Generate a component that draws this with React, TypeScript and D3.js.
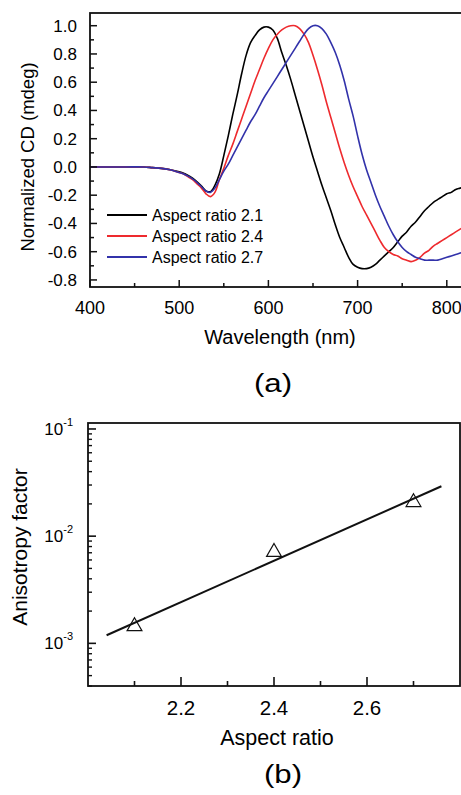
import { useEffect, useRef } from "react";
import * as d3 from "d3";

// (a) normalized CD spectra
const wavelengths = [
  400, 420, 440, 460, 470, 480, 490,
  500, 505, 510, 515, 520, 525, 530, 535, 540, 545, 550, 555, 560, 565, 570, 575, 580, 585, 590, 595,
  600, 605, 610, 615, 620, 625, 630, 635, 640, 645, 650, 655, 660, 665, 670, 675, 680, 685, 690, 695,
  700, 705, 710, 715, 720, 725, 730, 735, 740, 745, 750, 755, 760, 765, 770, 775, 780, 785, 790, 795,
  800, 805, 810, 815, 820, 825, 830,
];
const cd21 = [
  0, 0, 0, 0, -0.005, -0.01, -0.02,
  -0.035, -0.045, -0.06, -0.08, -0.105, -0.135, -0.17, -0.175, -0.13, -0.05, 0.08, 0.22, 0.37, 0.51, 0.66, 0.79, 0.88, 0.93, 0.97, 0.99,
  0.99, 0.97, 0.91, 0.81, 0.72, 0.62, 0.51, 0.4, 0.29, 0.18, 0.07, -0.03, -0.13, -0.22, -0.31, -0.41, -0.5, -0.57, -0.64, -0.69,
  -0.71, -0.72, -0.72, -0.71, -0.69, -0.66, -0.63, -0.6, -0.57, -0.53, -0.49, -0.46, -0.42, -0.39, -0.35, -0.31, -0.28, -0.25, -0.23, -0.21,
  -0.19, -0.18, -0.16, -0.15, -0.14, -0.13, -0.12,
];
const cd24 = [
  0, 0, 0, 0, -0.005, -0.01, -0.02,
  -0.04, -0.05, -0.07, -0.09, -0.12, -0.15, -0.19, -0.21, -0.18, -0.09, -0.01, 0.08, 0.16, 0.25, 0.34, 0.43, 0.52, 0.61, 0.69, 0.77,
  0.84, 0.9, 0.94, 0.97, 0.99, 1.0, 1.0, 0.98, 0.94, 0.88, 0.79, 0.69, 0.58, 0.46, 0.35, 0.24, 0.13, 0.03, -0.06, -0.14,
  -0.21, -0.28, -0.34, -0.4, -0.46, -0.52, -0.57, -0.6, -0.62, -0.63, -0.65, -0.66, -0.67, -0.66, -0.64, -0.61, -0.59, -0.56, -0.54, -0.52,
  -0.5, -0.48, -0.46, -0.44, -0.42, -0.4, -0.38,
];
const cd27 = [
  0, 0, 0, 0, -0.005, -0.01, -0.02,
  -0.04, -0.05, -0.065, -0.085, -0.11, -0.14, -0.17, -0.18, -0.15, -0.09, -0.03, 0.02, 0.08, 0.14, 0.2, 0.26, 0.32, 0.37, 0.43, 0.49,
  0.54, 0.59, 0.64, 0.69, 0.74, 0.79, 0.84, 0.89, 0.94, 0.98, 1.0, 1.0, 0.98, 0.94, 0.88, 0.81, 0.72, 0.61, 0.48, 0.36,
  0.22, 0.09, -0.02, -0.11, -0.2, -0.28, -0.35, -0.42, -0.48, -0.53, -0.57, -0.6, -0.62, -0.64, -0.65, -0.66, -0.66, -0.66, -0.66, -0.65,
  -0.64, -0.63, -0.62, -0.61, -0.6, -0.59, -0.58,
];
const seriesNames = ["Aspect ratio 2.1", "Aspect ratio 2.4", "Aspect ratio 2.7"];
const seriesColors = ["#000000", "#ee2a2e", "#3232aa"];
const cdTicks = [-0.8, -0.6, -0.4, -0.2, 0.0, 0.2, 0.4, 0.6, 0.8, 1.0];
const wlTicks = [400, 500, 600, 700, 800];

// (b) anisotropy factor vs aspect ratio
const aspectRatios = [2.1, 2.4, 2.7];
const anisotropy = [1.44e-3, 7.1e-3, 2.07e-2];
const fitRatios = [2.04, 2.76];
const fitAnisotropy = [1.19e-3, 2.92e-2];
const ratioTicks = [2.2, 2.4, 2.6];
const ratioMinorTicks = [2.1, 2.3, 2.5, 2.7];
const decadeTicks = [1e-3, 1e-2, 1e-1];
const decadeLabels = ["-3", "-2", "-1"];

const FONT = "'Liberation Sans', Arial, sans-serif";

export default function App() {
  const ref = useRef<SVGSVGElement | null>(null);

  useEffect(() => {
    const svg = d3.select(ref.current);
    svg.selectAll("*").remove();

    // ---------- panel (a) ----------
    const ax = { left: 90, top: 13, bottom: 287 };
    const x = d3.scaleLinear().domain([400, 900]).range([ax.left, ax.left + 446]);
    const y = d3.scaleLinear().domain([-0.85, 1.09]).range([ax.bottom, ax.top]);

    svg.append("clipPath").attr("id", "clipA")
      .append("rect")
      .attr("x", ax.left).attr("y", ax.top)
      .attr("width", x(900) - ax.left).attr("height", ax.bottom - ax.top);

    const series = [cd21, cd24, cd27];
    const line = d3.line<number>()
      .x((d, i) => x(wavelengths[i]))
      .y((d) => y(d))
      .curve(d3.curveCatmullRom);

    const lines = svg.append("g").attr("clip-path", "url(#clipA)");
    series.forEach((s, k) => {
      lines.append("path")
        .datum(s)
        .attr("fill", "none")
        .attr("stroke", seriesColors[k])
        .attr("stroke-width", 1.6)
        .attr("d", line);
    });

    // frame
    svg.append("rect")
      .attr("x", ax.left).attr("y", ax.top)
      .attr("width", x(900) - ax.left).attr("height", ax.bottom - ax.top)
      .attr("fill", "none").attr("stroke", "#111").attr("stroke-width", 1.8);

    // y ticks
    const yMinor = d3.range(-8, 11).map((v) => v / 10);
    svg.append("g").selectAll("line").data(yMinor).enter().append("line")
      .attr("x1", ax.left).attr("x2", (d) => ax.left + (Math.round(d * 10) % 2 === 0 ? 7 : 4))
      .attr("y1", (d) => y(d)).attr("y2", (d) => y(d))
      .attr("stroke", "#111").attr("stroke-width", 1.5);
    svg.append("g").selectAll("text").data(cdTicks).enter().append("text")
      .attr("x", 77).attr("y", (d) => y(d) + 6)
      .attr("text-anchor", "end")
      .attr("font-family", FONT).attr("font-size", 17)
      .text((d) => d.toFixed(1));

    // x ticks
    const xMinor = d3.range(400, 900, 50);
    svg.append("g").selectAll("line").data(xMinor).enter().append("line")
      .attr("x1", (d) => x(d)).attr("x2", (d) => x(d))
      .attr("y1", ax.bottom).attr("y2", (d) => ax.bottom - (d % 100 === 0 ? 7 : 4))
      .attr("stroke", "#111").attr("stroke-width", 1.5);
    svg.append("g").selectAll("text").data(wlTicks).enter().append("text")
      .attr("x", (d) => x(d)).attr("y", 314)
      .attr("text-anchor", "middle")
      .attr("font-family", FONT).attr("font-size", 18)
      .text((d) => d);

    // legend
    seriesNames.forEach((name, k) => {
      const ly = 215 + k * 21;
      svg.append("line")
        .attr("x1", 107).attr("x2", 147).attr("y1", ly).attr("y2", ly)
        .attr("stroke", seriesColors[k]).attr("stroke-width", 2);
      svg.append("text")
        .attr("x", 152).attr("y", ly + 6)
        .attr("font-family", FONT).attr("font-size", 16)
        .text(name);
    });

    svg.append("text")
      .attr("transform", "translate(34,157) rotate(-90)")
      .attr("text-anchor", "middle")
      .attr("font-family", FONT).attr("font-size", 18.5)
      .text("Normalized CD (mdeg)");
    svg.append("text")
      .attr("x", 280).attr("y", 344)
      .attr("text-anchor", "middle")
      .attr("font-family", FONT).attr("font-size", 20)
      .text("Wavelength (nm)");
    svg.append("text")
      .attr("transform", "translate(273,392) scale(1.2,1)")
      .attr("text-anchor", "middle")
      .attr("font-family", FONT).attr("font-size", 26)
      .text("(a)");

    // ---------- panel (b) ----------
    const bx = { left: 88, right: 460, top: 423, bottom: 686 };
    const xb = d3.scaleLinear().domain([2.0, 2.8]).range([bx.left, bx.right]);
    const yb = d3.scaleLog().domain([4e-4, 0.1137]).range([bx.bottom, bx.top]);

    svg.append("rect")
      .attr("x", bx.left).attr("y", bx.top)
      .attr("width", bx.right - bx.left).attr("height", bx.bottom - bx.top)
      .attr("fill", "none").attr("stroke", "#111").attr("stroke-width", 1.8);

    // log minor ticks
    const logMinor: number[] = [];
    [1e-4, 1e-3, 1e-2, 1e-1].forEach((dec) => {
      for (let m = 2; m <= 9; m++) {
        const v = dec * m;
        if (v >= 4e-4 && v <= 0.1137) logMinor.push(v);
      }
    });
    svg.append("g").selectAll("line").data(logMinor).enter().append("line")
      .attr("x1", bx.left).attr("x2", bx.left + 4)
      .attr("y1", (d) => yb(d)).attr("y2", (d) => yb(d))
      .attr("stroke", "#111").attr("stroke-width", 1.4);
    svg.append("g").selectAll("line").data(decadeTicks).enter().append("line")
      .attr("x1", bx.left).attr("x2", bx.left + 8)
      .attr("y1", (d) => yb(d)).attr("y2", (d) => yb(d))
      .attr("stroke", "#111").attr("stroke-width", 1.6);

    const decText = svg.append("g").selectAll("text").data(decadeTicks).enter().append("text")
      .attr("x", 73).attr("y", (d) => yb(d) + 6)
      .attr("text-anchor", "end")
      .attr("font-family", FONT).attr("font-size", 17);
    decText.append("tspan").text("10");
    decText.append("tspan")
      .attr("dy", -9).attr("font-size", 11)
      .text((d, i) => decadeLabels[i]);

    // x ticks
    svg.append("g").selectAll("line").data(ratioTicks).enter().append("line")
      .attr("x1", (d) => xb(d)).attr("x2", (d) => xb(d))
      .attr("y1", bx.bottom).attr("y2", bx.bottom - 9)
      .attr("stroke", "#111").attr("stroke-width", 1.6);
    svg.append("g").selectAll("line").data(ratioMinorTicks).enter().append("line")
      .attr("x1", (d) => xb(d)).attr("x2", (d) => xb(d))
      .attr("y1", bx.bottom).attr("y2", bx.bottom - 5)
      .attr("stroke", "#111").attr("stroke-width", 1.6);
    svg.append("g").selectAll("text").data(ratioTicks).enter().append("text")
      .attr("x", (d) => xb(d)).attr("y", 715)
      .attr("text-anchor", "middle")
      .attr("font-family", FONT).attr("font-size", 20.5)
      .text((d) => d.toFixed(1));

    // fit line
    svg.append("path")
      .datum(fitRatios.map((r, i) => [r, fitAnisotropy[i]] as [number, number]))
      .attr("fill", "none").attr("stroke", "#111").attr("stroke-width", 2)
      .attr("d", d3.line<[number, number]>().x((d) => xb(d[0])).y((d) => yb(d[1])));

    // markers
    const tri = d3.symbol().type(d3.symbolTriangle).size(95);
    svg.append("g").selectAll("path").data(aspectRatios).enter().append("path")
      .attr("transform", (d, i) => `translate(${xb(d)},${yb(anisotropy[i])})`)
      .attr("d", tri)
      .attr("fill", "none").attr("stroke", "#111").attr("stroke-width", 1.2);

    svg.append("text")
      .attr("transform", "translate(27,547) rotate(-90)")
      .attr("text-anchor", "middle")
      .attr("font-family", FONT).attr("font-size", 21)
      .text("Anisotropy factor");
    svg.append("text")
      .attr("x", 277).attr("y", 745)
      .attr("text-anchor", "middle")
      .attr("font-family", FONT).attr("font-size", 21.5)
      .text("Aspect ratio");
    svg.append("text")
      .attr("transform", "translate(283,783) scale(1.2,1)")
      .attr("text-anchor", "middle")
      .attr("font-family", FONT).attr("font-size", 26)
      .text("(b)");
  }, []);

  return (
    <svg
      ref={ref}
      width={461}
      height={795}
      style={{ position: "absolute", left: 0, top: 0, background: "#fff" }}
    />
  );
}
